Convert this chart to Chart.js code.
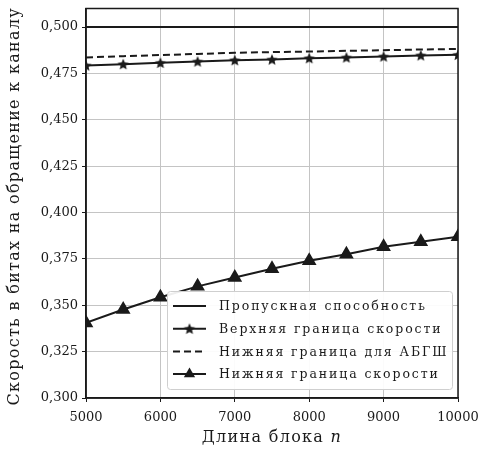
<!DOCTYPE html>
<html>
<head>
<meta charset="utf-8">
<script src="https://cdn.jsdelivr.net/npm/chart.js@4.4.1/dist/chart.umd.min.js"></script>
<style>
  html, body { margin: 0; background: #fff; }
  #wrap { width: 480px; height: 449px; }
</style>
</head>
<body>
<div id="wrap"><canvas id="c"></canvas></div>
<script>
'use strict';

// ---------------------------------------------------------------- data
const blockLen   = [5000, 5500, 6000, 6500, 7000, 7500, 8000, 8500, 9000, 9500, 10000];
const capacity   = [0.500, 0.500, 0.500, 0.500, 0.500, 0.500, 0.500, 0.500, 0.500, 0.500, 0.500];
const upperBound = [0.4793, 0.4800, 0.4807, 0.4814, 0.4821, 0.4825, 0.4832, 0.4836, 0.4841, 0.4847, 0.4850];
const awgnLower  = [0.4836, 0.4843, 0.4849, 0.4855, 0.4861, 0.4865, 0.4868, 0.4872, 0.4875, 0.4879, 0.4882];
const lowerBound = [0.3405, 0.3477, 0.3543, 0.3602, 0.3650, 0.3697, 0.3740, 0.3775, 0.3815, 0.3843, 0.3870];

const xTicks = [5000, 6000, 7000, 8000, 9000, 10000];
const yTicks = [0.300, 0.325, 0.350, 0.375, 0.400, 0.425, 0.450, 0.475, 0.500];

const labels = [
  'Пропускная способность',
  'Верхняя граница скорости',
  'Нижняя граница для АБГШ',
  'Нижняя граница скорости',
];
const yTitle = 'Скорость в битах на обращение к каналу';
const xTitle = 'Длина блока ';
const xVar = 'n';

const INK = '#1a1a1a';
const SERIF = '"DejaVu Serif", "Liberation Serif", serif';

// filled five-point star used as a marker
function starImg(r) {
  const s = Math.ceil(r * 2 + 2);
  const c = document.createElement('canvas');
  c.width = c.height = s;
  const g = c.getContext('2d');
  g.translate(s / 2, s / 2 + 0.5);
  g.beginPath();
  for (let i = 0; i < 10; i++) {
    const rad = i % 2 ? r * 0.45 : r;
    const a = -Math.PI / 2 + i * Math.PI / 5;
    g.lineTo(rad * Math.cos(a), rad * Math.sin(a));
  }
  g.closePath();
  g.fillStyle = INK;
  g.fill();
  return c;
}
const star = starImg(6);

const pts = (ys) => blockLen.map((x, i) => ({ x, y: ys[i] }));

const datasets = [
  { label: labels[0], data: pts(capacity), borderColor: INK, borderWidth: 2, pointRadius: 0 },
  { label: labels[1], data: pts(upperBound), borderColor: INK, borderWidth: 2,
    pointStyle: star, pointRadius: 5, backgroundColor: INK },
  { label: labels[2], data: pts(awgnLower), borderColor: INK, borderWidth: 2, borderDash: [7, 4], pointRadius: 0 },
  { label: labels[3], data: pts(lowerBound), borderColor: INK, borderWidth: 2,
    pointStyle: 'triangle', pointRadius: 6.5, backgroundColor: INK, pointBorderColor: INK },
].map((d) => ({ ...d, tension: 0, clip: 0, fill: false }));

// ---------------------------------------------------------------- decorations
const decor = {
  id: 'decor',
  afterDatasetsDraw(chart) {
    const { ctx, chartArea: a } = chart;
    ctx.save();
    // frame
    ctx.strokeStyle = INK;
    ctx.lineWidth = 1.5;
    ctx.strokeRect(a.left, a.top, a.right - a.left, a.bottom - a.top);

    // legend box, bottom right inside the plot
    const bx = 167, by = 291, bw = 285, bh = 98;
    ctx.fillStyle = 'rgba(255,255,255,0.92)';
    ctx.strokeStyle = '#cfcfcf';
    ctx.lineWidth = 1;
    ctx.beginPath();
    ctx.roundRect(bx + 0.5, by + 0.5, bw, bh, 3);
    ctx.fill();
    ctx.stroke();

    ctx.font = '12.5px ' + SERIF;
    ctx.textBaseline = 'middle';
    ctx.textAlign = 'left';
    ctx.letterSpacing = '1.9px';
    chart.data.datasets.forEach((d, i) => {
      const y = 306 + i * 22.7;
      ctx.strokeStyle = INK;
      ctx.lineWidth = d.borderWidth;
      ctx.setLineDash(d.borderDash || []);
      ctx.beginPath();
      ctx.moveTo(173, y);
      ctx.lineTo(206, y);
      ctx.stroke();
      ctx.setLineDash([]);
      if (d.pointRadius) {
        ctx.fillStyle = INK;
        Chart.helpers.drawPoint(ctx, { pointStyle: d.pointStyle, radius: d.pointRadius, rotation: 0, borderWidth: 0 }, 189.5, y);
      }
      ctx.fillStyle = INK;
      ctx.fillText(d.label, 219, y + 1);
    });
    ctx.letterSpacing = '0px';

    // axis titles
    ctx.font = '16px ' + SERIF;
    ctx.letterSpacing = '1.3px';
    ctx.fillStyle = INK;
    ctx.textAlign = 'center';
    ctx.save();
    ctx.translate(15, (a.top + a.bottom) / 2 + 3);
    ctx.rotate(-Math.PI / 2);
    ctx.fillText(yTitle, 0, 0);
    ctx.restore();

    const w1 = ctx.measureText(xTitle).width;
    ctx.font = 'italic 16px ' + SERIF;
    const w2 = ctx.measureText(xVar).width;
    const x0 = (a.left + a.right) / 2 - (w1 + w2) / 2;
    ctx.textAlign = 'left';
    ctx.font = '16px ' + SERIF;
    ctx.fillText(xTitle, x0, 438);
    ctx.font = 'italic 16px ' + SERIF;
    ctx.fillText(xVar, x0 + w1, 438);
    ctx.restore();
  },
};

// ---------------------------------------------------------------- chart
new Chart(document.getElementById('c'), {
  type: 'line',
  data: { datasets },
  plugins: [decor],
  options: {
    responsive: true, maintainAspectRatio: false, animation: false,
    layout: { padding: { top: 7, right: 22, left: 0, bottom: 0 } },
    plugins: { legend: { display: false }, tooltip: { enabled: false } },
    scales: {
      x: {
        type: 'linear', min: 5000, max: 10000,
        afterBuildTicks: (s) => { s.ticks = xTicks.map((value) => ({ value })); },
        afterFit: (s) => { s.height = 51; s.paddingRight = 0; s.paddingLeft = 0; },
        grid: { color: '#c4c4c4', lineWidth: 1, tickColor: INK, tickLength: 4 },
        border: { color: INK, width: 1.5 },
        ticks: { color: INK, font: { family: SERIF, size: 13 }, padding: 8, maxRotation: 0,
                 callback: (v) => String(v) },
      },
      y: {
        min: 0.300, max: 0.51,
        afterBuildTicks: (s) => { s.ticks = yTicks.map((value) => ({ value })); },
        afterFit: (s) => { s.width = 86; s.paddingTop = 0; s.paddingBottom = 0; },
        grid: { color: '#c4c4c4', lineWidth: 1, tickColor: INK, tickLength: 4 },
        border: { color: INK, width: 1.5 },
        ticks: { color: INK, font: { family: SERIF, size: 13 }, padding: 4,
                 callback: (v) => v.toFixed(3).replace('.', ',') },
      },
    },
  },
});
</script>
</body>
</html>
